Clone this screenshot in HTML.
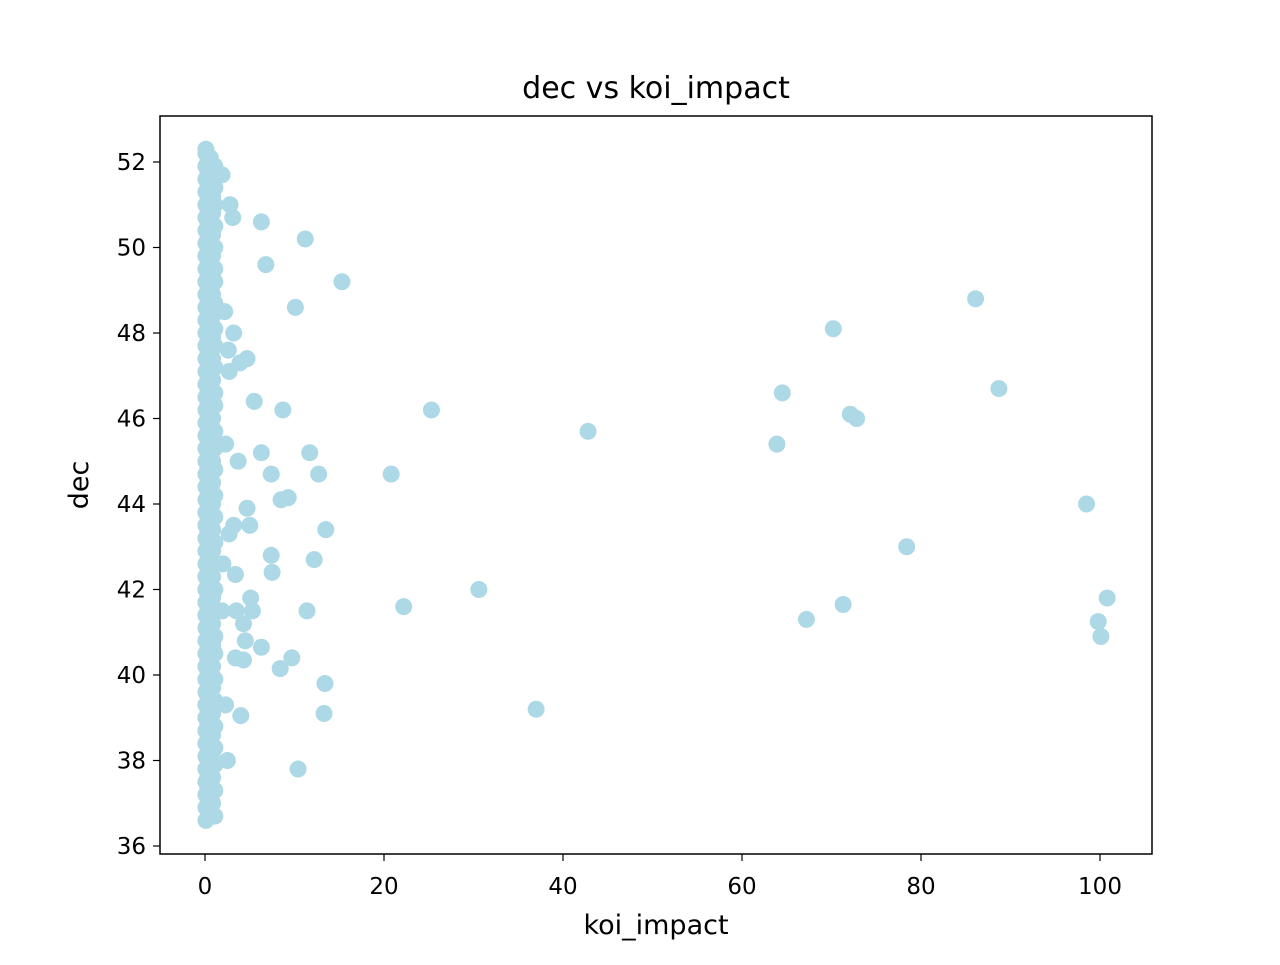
<!DOCTYPE html>
<html><head><meta charset="utf-8"><style>
body{margin:0;background:#fff;font-family:"Liberation Sans","DejaVu Sans",sans-serif}
svg text{font-family:"DejaVu Sans","Liberation Sans",sans-serif}
</style></head><body>
<svg id="chart" width="1280" height="960" xmlns="http://www.w3.org/2000/svg">
<rect width="1280" height="960" fill="#fff"/>
<text x="656" y="98" font-size="30" text-anchor="middle">dec vs koi_impact</text>
<g id="marks"></g>
<rect x="160" y="116" width="992" height="738" fill="none" stroke="#000" stroke-width="1.5"/>
<g id="axes"></g>
<text x="656" y="934" font-size="27" text-anchor="middle">koi_impact</text>
<text transform="translate(88,485) rotate(-90)" font-size="27" text-anchor="middle">dec</text>
</svg>
<script>
const xTicks=[0,20,40,60,80,100];
const yTicks=[36,38,40,42,44,46,48,50,52];
const outX=[6.3,11.2,6.8,15.3,10.1,3.2,4.7,5.5,8.7,6.3,11.7,3.7,7.4,12.7,20.8,25.3,42.8,86.1,70.2,64.5,88.7,72.1,72.8,63.9,98.5,78.4,30.6,22.2,71.3,67.2,100.8,99.8,100.1,37.0,4.7,9.3,8.5,5.0,3.2,13.5,7.4,7.5,12.2,3.4,5.1,5.3,3.5,11.4,4.3,4.5,6.3,9.7,4.3,3.4,8.4,13.4,13.3,4.0,10.4,2.5,2.3,1.9,2.2,2.8,3.1,1.9,2.6,2.7,2.3,2.7,2.0,3.9];
const outY=[50.6,50.2,49.6,49.2,48.6,48.0,47.4,46.4,46.2,45.2,45.2,45.0,44.7,44.7,44.7,46.2,45.7,48.8,48.1,46.6,46.7,46.1,46.0,45.4,44.0,43.0,42.0,41.6,41.65,41.3,41.8,41.25,40.9,39.2,43.9,44.15,44.1,43.5,43.5,43.4,42.8,42.4,42.7,42.35,41.8,41.5,41.5,41.5,41.2,40.8,40.65,40.4,40.35,40.4,40.15,39.8,39.1,39.05,37.8,38.0,39.3,41.5,48.5,51.0,50.7,51.7,47.6,47.1,45.4,43.3,42.6,47.3];
const colAY=[36.6,36.9,37.2,37.5,37.8,38.1,38.4,38.7,39.0,39.3,39.6,39.9,40.2,40.5,40.8,41.1,41.4,41.7,42.0,42.3,42.6,42.9,43.2,43.5,43.8,44.1,44.4,44.7,45.0,45.3,45.6,45.9,46.2,46.5,46.8,47.1,47.4,47.7,48.0,48.3,48.6,48.9,49.2,49.5,49.8,50.1,50.4,50.7,51.0,51.3,51.6,51.9,52.2,52.3];
const colBY=[36.8,37.1,37.4,37.7,38.0,38.3,38.6,38.9,39.2,39.5,39.8,40.1,40.4,40.7,41.0,41.3,41.6,41.9,42.2,42.5,42.8,43.1,43.4,43.7,44.0,44.3,44.6,44.9,45.2,45.5,45.8,46.1,46.4,46.7,47.0,47.3,47.6,47.9,48.2,48.5,48.8,49.1,49.4,49.7,50.0,50.3,50.6,50.9,51.2,51.5,51.8,52.1];
const colCY=[36.7,37.3,37.9,38.3,38.8,39.4,39.9,40.5,40.9,41.5,42.0,42.6,43.1,43.7,44.2,44.8,45.3,45.7,46.3,46.6,47.2,47.7,48.1,48.7,49.2,49.5,50.0,50.5,51.0,51.4,51.9];
const colDY=[37.0,37.35,37.65,37.95,38.25,38.55,38.85,39.15,39.45,39.75,40.05,40.35,40.65,40.95,41.25,41.55,41.85,42.15,42.45,42.75,43.05,43.35,43.65,43.95,44.25,44.55,44.85,45.15,45.45,45.75,46.05,46.35,46.65,46.95,47.25,47.55,47.85,48.15,48.45,48.75,49.05,49.35,49.65,49.95,50.25,50.55,50.85,51.15,51.45,51.75,52.05];
const colEY=[37.0,37.6,38.2,38.6,39.1,39.7,40.2,40.7,41.2,41.8,42.3,42.9,43.4,44.0,44.5,45.0,45.5,46.0,46.5,46.9,47.4,47.9,48.4,48.9,49.4,49.8,50.3,50.8,51.2,51.7];
const colAX=0.1, colBX=0.6, colCX=1.1, colDX=0.35, colEX=0.85;
const X=v=>205+v*8.95, Y=v=>846-(v-36)*42.75;
const NS="http://www.w3.org/2000/svg";
const marks=document.getElementById('marks'), axes=document.getElementById('axes');
function dot(x,y){const c=document.createElementNS(NS,'circle');c.setAttribute('cx',X(x));c.setAttribute('cy',Y(y));c.setAttribute('r',8.5);c.setAttribute('fill','#add8e6');


marks.appendChild(c);}
colAY.forEach(y=>dot(colAX,y));colBY.forEach(y=>dot(colBX,y));colCY.forEach(y=>dot(colCX,y));
colDY.forEach(y=>dot(colDX,y));colEY.forEach(y=>dot(colEX,y));
outX.forEach((x,i)=>dot(x,outY[i]));
xTicks.forEach(t=>{const l=document.createElementNS(NS,'line');l.setAttribute('x1',X(t));l.setAttribute('x2',X(t));l.setAttribute('y1',854);l.setAttribute('y2',861);l.setAttribute('stroke','#000');l.setAttribute('stroke-width','1.2');


axes.appendChild(l);
const tx=document.createElementNS(NS,'text');tx.setAttribute('x',X(t));tx.setAttribute('y',894);tx.setAttribute('font-size','23');tx.setAttribute('text-anchor','middle');tx.textContent=t;


axes.appendChild(tx);});
yTicks.forEach(t=>{const l=document.createElementNS(NS,'line');l.setAttribute('x1',153);l.setAttribute('x2',160);l.setAttribute('y1',Y(t));l.setAttribute('y2',Y(t));l.setAttribute('stroke','#000');l.setAttribute('stroke-width','1.2');


axes.appendChild(l);
const tx=document.createElementNS(NS,'text');tx.setAttribute('x',146);tx.setAttribute('y',Y(t)+8);tx.setAttribute('font-size','23');tx.setAttribute('text-anchor','end');tx.textContent=t;


axes.appendChild(tx);});
</script>
</body></html>
